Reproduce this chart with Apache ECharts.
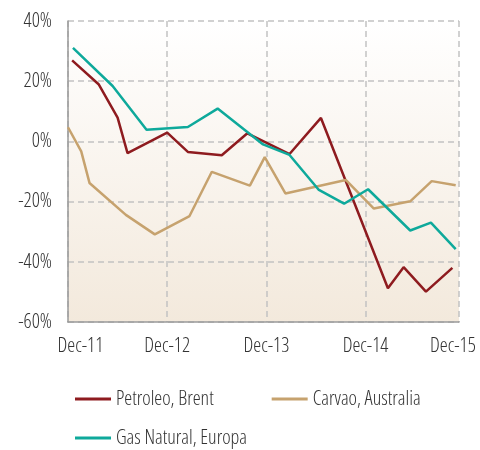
<!DOCTYPE html>
<html>
<head>
<meta charset="utf-8">
<style>
  html, body { margin: 0; padding: 0; background: #fff; }
  #chart { width: 480px; height: 450px; }
</style>
<script src="https://cdn.jsdelivr.net/npm/echarts@6/dist/echarts.min.js"></script>
</head>
<body>
<div id="chart"></div>
<script>
// x = meses desde Dec-11, y = variacao em %
const xLabels = ["Dec-11", "Dec-12", "Dec-13", "Dec-14", "Dec-15"];
const seriesNames = ["Petroleo, Brent", "Carvao, Australia", "Gas Natural, Europa"];

const brent = [
  [0.5, 26.9], [3.7, 19.0], [6.0, 7.9], [7.2, -3.9], [12.0, 2.9],
  [14.5, -3.5], [18.6, -4.6], [21.7, 2.7], [26.8, -4.2], [30.6, 7.8],
  [38.7, -48.8], [40.6, -41.8], [43.3, -49.9], [46.5, -42.0]
];
const carvao = [
  [0.0, 4.7], [1.6, -3.3], [2.6, -13.8], [7.0, -24.4], [10.5, -30.9],
  [14.7, -24.8], [17.4, -10.1], [22.0, -14.7], [23.8, -5.2], [26.3, -17.3],
  [33.6, -12.8], [37.0, -22.3], [41.4, -19.9], [44.0, -13.2], [46.9, -14.6]
];
const gas = [
  [0.6, 31.1], [5.4, 18.4], [9.5, 3.9], [14.5, 4.8], [18.1, 10.9],
  [23.6, -1.0], [26.8, -4.5], [30.3, -16.0], [33.4, -20.7], [36.3, -15.9],
  [41.4, -29.6], [43.9, -27.0], [46.9, -35.8]
];

const colors = ["#8e1b1f", "#c6a26e", "#0ea99b"];
// fonte condensada (parecida com Myriad Condensed)
const txt = {
  fontFamily: "'Open Sans'",
  fontWeight: "350 condensed",
  fontSize: 20,
  color: "#333333",
};

let myChart = echarts.init(document.getElementById("chart"));

const gridLine = {
  show: true,
  lineStyle: { color: "#c2c2c2", width: 1.5, type: [6, 4] },
};

const legendBase = {
  padding: 0,
  left: 75,
  width: 400,
  itemGap: 58,
  itemWidth: 36,
  itemHeight: 3,
  icon: "rect",
  textStyle: txt,
};

myChart.setOption({
  animation: false,
  color: colors,
  grid: {
    left: 68,
    right: 21,
    top: 21,
    bottom: 128,
    show: true,
    borderWidth: 0,
    backgroundColor: new echarts.graphic.LinearGradient(0, 0, 0, 1, [
      { offset: 0, color: "#ffffff" },
      { offset: 1, color: "#f3e9dc" },
    ]),
  },
  legend: [
    { ...legendBase, data: seriesNames.slice(0, 2), top: 389 },
    { ...legendBase, data: seriesNames.slice(2), top: 428 },
  ],
  xAxis: {
    type: "value",
    min: 0,
    max: 47.3,
    interval: 12,
    axisLine: { show: true, onZero: false, lineStyle: { color: "#9a9a9a", width: 1.5 } },
    axisTick: { show: false },
    splitLine: gridLine,
    axisLabel: {
      ...txt,
      margin: 14,
      formatter: (v) => {
        const i = Math.round(v / 12);
        if (i === 0) return "{first|" + xLabels[i] + "}";
        if (i === xLabels.length - 1) return "{last|" + xLabels[i] + "}";
        return xLabels[i];
      },
      rich: {
        first: { ...txt, padding: [0, 0, 0, 25] },
        last: { ...txt, padding: [0, 12, 0, 0] },
      },
    },
  },
  yAxis: {
    type: "value",
    min: -60,
    max: 40,
    interval: 20,
    axisLine: { show: true, lineStyle: { color: "#9a9a9a", width: 1.5 } },
    axisTick: { show: false },
    splitLine: gridLine,
    axisLabel: {
      ...txt,
      margin: 16,
      formatter: (v) => v + "%",
    },
  },
  series: [brent, carvao, gas].map((d, i) => ({
    name: seriesNames[i],
    type: "line",
    data: d,
    showSymbol: false,
    lineStyle: { width: 2.5 },
  })),
});
</script>
</body>
</html>
